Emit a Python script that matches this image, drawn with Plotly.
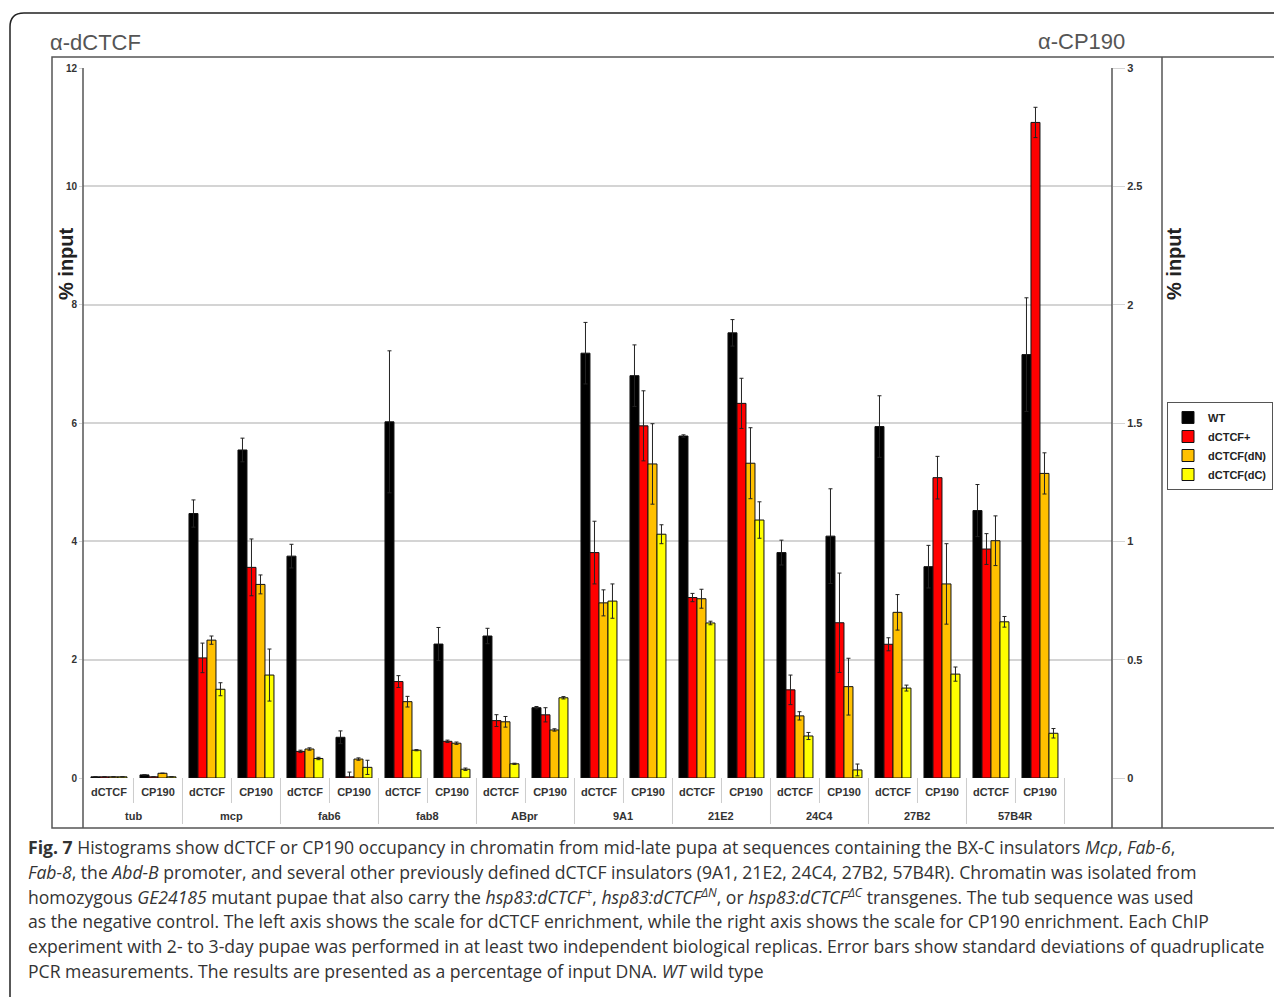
import plotly.graph_objects as go

# ---------------- data ----------------
groups = ["tub", "mcp", "fab6", "fab8", "ABpr", "9A1", "21E2", "24C4", "27B2", "57B4R"]
antibodies = ["dCTCF", "CP190"]
series_names = ["WT", "dCTCF+", "dCTCF(dN)", "dCTCF(dC)"]
series_colors = ["#000000", "#ff0000", "#ffc000", "#ffff00"]

# dCTCF ChIP (% input, left axis)
wt_dctcf = [0.02, 4.47, 3.75, 6.02, 2.40, 7.18, 5.78, 3.81, 5.94, 4.52]
wt_dctcf_err = [None, 0.23, 0.20, 1.20, 0.13, 0.52, 0.02, 0.21, 0.52, 0.44]
plus_dctcf = [0.02, 2.03, 0.45, 1.63, 0.97, 3.81, 3.05, 1.49, 2.26, 3.87]
plus_dctcf_err = [None, 0.25, 0.02, 0.10, 0.10, 0.53, 0.07, 0.25, 0.11, 0.26]
dn_dctcf = [0.02, 2.33, 0.49, 1.29, 0.95, 2.96, 3.03, 1.05, 2.80, 4.01]
dn_dctcf_err = [None, 0.07, 0.02, 0.09, 0.09, 0.22, 0.16, 0.07, 0.30, 0.42]
dc_dctcf = [0.02, 1.50, 0.33, 0.47, 0.24, 2.99, 2.62, 0.71, 1.52, 2.64]
dc_dctcf_err = [None, 0.11, 0.02, 0.01, 0.01, 0.29, 0.03, 0.06, 0.05, 0.09]

# CP190 ChIP (% input, right axis)
wt_cp190 = [0.013, 1.386, 0.172, 0.566, 0.297, 1.700, 1.881, 1.022, 0.893, 1.789]
wt_cp190_err = [None, 0.05, 0.027, 0.07, 0.005, 0.13, 0.056, 0.20, 0.09, 0.24]
plus_cp190 = [0.005, 0.890, 0.005, 0.155, 0.267, 1.488, 1.583, 0.656, 1.269, 2.770]
plus_cp190_err = [None, 0.12, 0.02, 0.005, 0.03, 0.148, 0.106, 0.21, 0.09, 0.064]
dn_cp190 = [0.020, 0.818, 0.080, 0.147, 0.203, 1.327, 1.330, 0.386, 0.820, 1.287]
dn_cp190_err = [None, 0.04, 0.005, 0.005, 0.005, 0.17, 0.15, 0.12, 0.17, 0.087]
dc_cp190 = [0.005, 0.435, 0.045, 0.037, 0.339, 1.030, 1.090, 0.034, 0.439, 0.189]
dc_cp190_err = [None, 0.11, 0.03, 0.005, 0.005, 0.04, 0.077, 0.025, 0.03, 0.02]

left_ticks = [0, 2, 4, 6, 8, 10, 12]
right_ticks = [0, 0.5, 1, 1.5, 2, 2.5, 3]

dctcf_values = [wt_dctcf, plus_dctcf, dn_dctcf, dc_dctcf]
dctcf_errors = [wt_dctcf_err, plus_dctcf_err, dn_dctcf_err, dc_dctcf_err]
cp190_values = [wt_cp190, plus_cp190, dn_cp190, dc_cp190]
cp190_errors = [wt_cp190_err, plus_cp190_err, dn_cp190_err, dc_cp190_err]

# category slots: each group has a dCTCF slot followed by a CP190 slot
n_ab = len(antibodies)
slot_dctcf = [g * n_ab + 0 for g in range(len(groups))]
slot_cp190 = [g * n_ab + 1 for g in range(len(groups))]
slot_vals = [g * n_ab + a for g in range(len(groups)) for a in range(n_ab)]
slot_text = [antibodies[a] for g in range(len(groups)) for a in range(n_ab)]

# ---------------- layout geometry ----------------
W, H = 1266, 989          # page has an 8px body margin
OX, OY = 8, 8
PL, PR, PT, PB = 83, 1112, 68, 778   # plot area in page pixels
XR = [-0.53, 20.47]


def px(x):
    return (x - PL) / (PR - PL)


def py(y):
    return (PB - y) / (PB - PT)


BW = 0.1836
TXT = "#333333"
FONT = "Liberation Sans"

fig = go.Figure()

for i, name in enumerate(series_names):
    fig.add_trace(go.Bar(
        x=slot_dctcf, y=dctcf_values[i],
        error_y=dict(type="data", array=dctcf_errors[i], visible=True,
                     color="#222222", thickness=1, width=2),
        marker=dict(color=series_colors[i], line=dict(color="#111111", width=1)),
        width=BW, offset=-2 * BW + i * BW,
        name=name, legendgroup=name, showlegend=True, yaxis="y",
    ))
for i, name in enumerate(series_names):
    fig.add_trace(go.Bar(
        x=slot_cp190, y=cp190_values[i],
        error_y=dict(type="data", array=cp190_errors[i], visible=True,
                     color="#222222", thickness=1, width=2),
        marker=dict(color=series_colors[i], line=dict(color="#111111", width=1)),
        width=BW, offset=-2 * BW + i * BW,
        name=name, legendgroup=name, showlegend=False, yaxis="y2",
    ))

shapes = []
LINE = dict(color="#555555", width=1.5)
# outer rounded frame
shapes.append(dict(type="path", xref="paper", yref="paper",
                   path=f"M {px(1300)},{py(13)} L {px(24)},{py(13)} Q {px(10)},{py(13)} {px(10)},{py(27)} L {px(10)},{py(1020)}",
                   line=dict(color="#222222", width=1.5)))
# chart box
shapes.append(dict(type="rect", xref="paper", yref="paper",
                   x0=px(52), x1=px(1275), y0=py(57), y1=py(828), line=LINE, layer="below"))
# legend column separator
shapes.append(dict(type="line", xref="paper", yref="paper",
                   x0=px(1162), x1=px(1162), y0=py(57), y1=py(828), line=LINE))
# axis lines (continued through the label table)
for xp in (PL, PR):
    shapes.append(dict(type="line", xref="paper", yref="paper",
                       x0=px(xp), x1=px(xp), y0=py(68), y1=py(828), line=LINE))
# table dividers
CELL = dict(color="#cccccc", width=1)
for g in range(len(groups)):
    sub = g * n_ab + 0.5
    shapes.append(dict(type="line", xref="x", yref="paper", x0=sub, x1=sub,
                       y0=0, y1=py(803), line=CELL))
    edge = g * n_ab + n_ab - 0.5
    shapes.append(dict(type="line", xref="x", yref="paper", x0=edge, x1=edge,
                       y0=0, y1=py(824), line=CELL))

annotations = []
for g, name in enumerate(groups):
    annotations.append(dict(text=name, x=g * n_ab + 0.5, y=py(816), xref="x", yref="paper",
                            xanchor="center", yanchor="middle", showarrow=False,
                            font=dict(family=FONT, size=11, color=TXT, weight="bold")))
annotations.append(dict(text="α-dCTCF", x=px(48), y=py(42), xref="paper", yref="paper",
                        xanchor="left", yanchor="middle", showarrow=False,
                        font=dict(family=FONT, size=22, color="#555555")))
annotations.append(dict(text="α-CP190", x=px(1036), y=py(41), xref="paper", yref="paper",
                        xanchor="left", yanchor="middle", showarrow=False,
                        font=dict(family=FONT, size=22, color="#555555")))
for xc in (66, 1174):
    annotations.append(dict(text="% input", x=px(xc), y=py(264), xref="paper", yref="paper",
                            xanchor="center", yanchor="middle", showarrow=False, textangle=-90,
                            font=dict(family=FONT, size=20, color="#222222", weight="bold")))

caption_lines = [
    "<b>Fig. 7</b> Histograms show dCTCF or CP190 occupancy in chromatin from mid-late pupa at sequences containing the BX-C insulators <i>Mcp</i>, <i>Fab-6</i>,",
    "<i>Fab-8</i>, the <i>Abd-B</i> promoter, and several other previously defined dCTCF insulators (9A1, 21E2, 24C4, 27B2, 57B4R). Chromatin was isolated from",
    "homozygous <i>GE24185</i> mutant pupae that also carry the <i>hsp83:dCTCF<sup>+</sup></i>, <i>hsp83:dCTCF<sup>ΔN</sup></i>, or <i>hsp83:dCTCF<sup>ΔC</sup></i> transgenes. The tub sequence was used",
    "as the negative control. The left axis shows the scale for dCTCF enrichment, while the right axis shows the scale for CP190 enrichment. Each ChIP",
    "experiment with 2- to 3-day pupae was performed in at least two independent biological replicas. Error bars show standard deviations of quadruplicate",
    "PCR measurements. The results are presented as a percentage of input DNA. <i>WT</i> wild type",
]
for k, line in enumerate(caption_lines):
    annotations.append(dict(text=line, x=px(26), y=py(847 + 24.8 * k), xref="paper", yref="paper",
                            xanchor="left", yanchor="middle", showarrow=False,
                            font=dict(family="Open Sans", size=17.6, color="#333333")))

fig.update_layout(
    width=W, height=H,
    margin=dict(l=PL - OX, r=W - (PR - OX), t=PT - OY, b=H - (PB - OY), autoexpand=False),
    paper_bgcolor="white", plot_bgcolor="white",
    barmode="group",
    showlegend=True,
    legend=dict(x=px(1167), y=py(402), xanchor="left", yanchor="top",
                bgcolor="white", bordercolor="#555555", borderwidth=1,
                font=dict(family=FONT, size=11, color="#222222", weight="bold"),
                itemwidth=30, tracegroupgap=5, traceorder="normal"),
    xaxis=dict(range=XR, autorange=False, showgrid=False,
               showline=False, zeroline=False, ticks="",
               tickvals=slot_vals, ticktext=slot_text, ticklabelstandoff=6,
               tickfont=dict(family=FONT, size=11, color=TXT, weight="bold")),
    yaxis=dict(range=[0, 12], autorange=False, tickvals=left_ticks, showgrid=True,
               gridcolor="#d4d4d4", gridwidth=1.5, zeroline=False, showline=False,
               ticks="outside", ticklen=3, tickcolor="#d4d4d4",
               tickfont=dict(family=FONT, size=10, color=TXT, weight="bold")),
    yaxis2=dict(range=[0, 3], autorange=False, tickvals=right_ticks, overlaying="y",
                side="right", showgrid=False, zeroline=False, showline=False,
                ticks="outside", ticklen=12, tickcolor="#d4d4d4",
                tickfont=dict(family=FONT, size=11, color=TXT, weight="bold")),
    shapes=shapes,
    annotations=annotations,
)

fig.write_html("out.html")
